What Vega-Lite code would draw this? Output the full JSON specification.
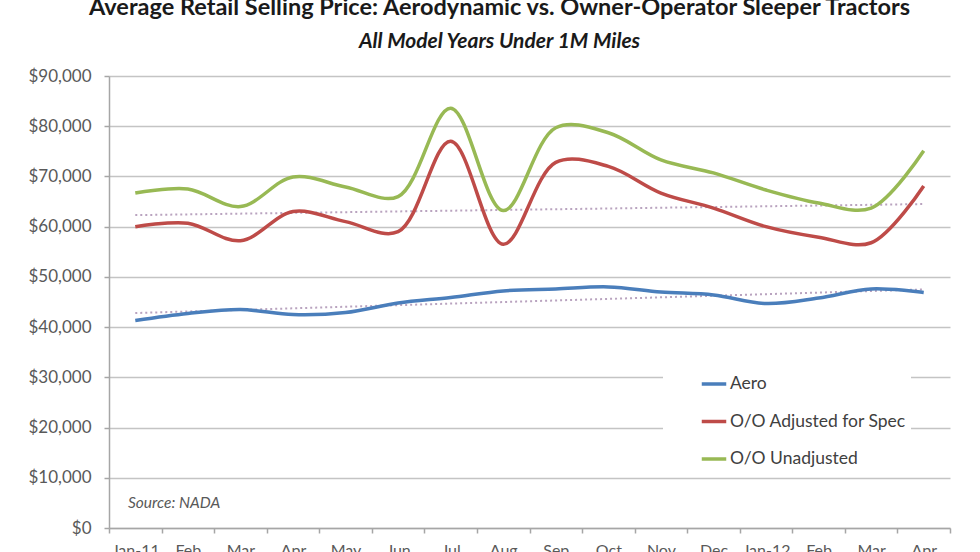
{
  "$schema": "https://vega.github.io/schema/vega-lite/v6.json",
  "description": "Average retail selling price, aerodynamic vs. owner-operator sleeper tractors.",
  "width": 841,
  "height": 452,
  "autosize": "none",
  "padding": {"left": 109, "top": 76, "right": 30, "bottom": 24},
  "background": "white",
  "title": {
    "text": "Average Retail Selling Price: Aerodynamic vs. Owner-Operator Sleeper Tractors",
    "subtitle": "All Model Years Under 1M Miles",
    "anchor": "middle",
    "dx": -30,
    "offset": 15,
    "font": "Lato",
    "fontSize": 23.5,
    "fontWeight": "bold",
    "color": "#1a1a1a",
    "subtitleFont": "Lato",
    "subtitleFontSize": 21,
    "subtitleFontWeight": "bold",
    "subtitleFontStyle": "italic",
    "subtitleColor": "#1a1a1a",
    "subtitlePadding": 12
  },
  "datasets": {
    "prices": [
      {"month": "Jan-11", "series": "Aero", "price": 41300},
      {"month": "Feb-11", "series": "Aero", "price": 42700},
      {"month": "Mar-11", "series": "Aero", "price": 43500},
      {"month": "Apr-11", "series": "Aero", "price": 42500},
      {"month": "May-11", "series": "Aero", "price": 42900},
      {"month": "Jun-11", "series": "Aero", "price": 44800},
      {"month": "Jul-11", "series": "Aero", "price": 45900},
      {"month": "Aug-11", "series": "Aero", "price": 47200},
      {"month": "Sep-11", "series": "Aero", "price": 47600},
      {"month": "Oct-11", "series": "Aero", "price": 48000},
      {"month": "Nov-11", "series": "Aero", "price": 47000},
      {"month": "Dec-11", "series": "Aero", "price": 46400},
      {"month": "Jan-12", "series": "Aero", "price": 44700},
      {"month": "Feb-12", "series": "Aero", "price": 45800},
      {"month": "Mar-12", "series": "Aero", "price": 47600},
      {"month": "Apr-12", "series": "Aero", "price": 46900},
      {"month": "Jan-11", "series": "O/O Adjusted for Spec", "price": 60000},
      {"month": "Feb-11", "series": "O/O Adjusted for Spec", "price": 60700},
      {"month": "Mar-11", "series": "O/O Adjusted for Spec", "price": 57200},
      {"month": "Apr-11", "series": "O/O Adjusted for Spec", "price": 63000},
      {"month": "May-11", "series": "O/O Adjusted for Spec", "price": 61000},
      {"month": "Jun-11", "series": "O/O Adjusted for Spec", "price": 59000},
      {"month": "Jul-11", "series": "O/O Adjusted for Spec", "price": 77000},
      {"month": "Aug-11", "series": "O/O Adjusted for Spec", "price": 56500},
      {"month": "Sep-11", "series": "O/O Adjusted for Spec", "price": 72800},
      {"month": "Oct-11", "series": "O/O Adjusted for Spec", "price": 72000},
      {"month": "Nov-11", "series": "O/O Adjusted for Spec", "price": 66700},
      {"month": "Dec-11", "series": "O/O Adjusted for Spec", "price": 63700},
      {"month": "Jan-12", "series": "O/O Adjusted for Spec", "price": 60000},
      {"month": "Feb-12", "series": "O/O Adjusted for Spec", "price": 57900},
      {"month": "Mar-12", "series": "O/O Adjusted for Spec", "price": 56800},
      {"month": "Apr-12", "series": "O/O Adjusted for Spec", "price": 68100},
      {"month": "Jan-11", "series": "O/O Unadjusted", "price": 66700},
      {"month": "Feb-11", "series": "O/O Unadjusted", "price": 67500},
      {"month": "Mar-11", "series": "O/O Unadjusted", "price": 64000},
      {"month": "Apr-11", "series": "O/O Unadjusted", "price": 69900},
      {"month": "May-11", "series": "O/O Unadjusted", "price": 67900},
      {"month": "Jun-11", "series": "O/O Unadjusted", "price": 66000},
      {"month": "Jul-11", "series": "O/O Unadjusted", "price": 83600},
      {"month": "Aug-11", "series": "O/O Unadjusted", "price": 63200},
      {"month": "Sep-11", "series": "O/O Unadjusted", "price": 79700},
      {"month": "Oct-11", "series": "O/O Unadjusted", "price": 78700},
      {"month": "Nov-11", "series": "O/O Unadjusted", "price": 73300},
      {"month": "Dec-11", "series": "O/O Unadjusted", "price": 70700},
      {"month": "Jan-12", "series": "O/O Unadjusted", "price": 67300},
      {"month": "Feb-12", "series": "O/O Unadjusted", "price": 64700},
      {"month": "Mar-12", "series": "O/O Unadjusted", "price": 63700},
      {"month": "Apr-12", "series": "O/O Unadjusted", "price": 75100}
    ],
    "trends": [
      {"month": "Jan-11", "trend": "Aero trend", "price": 42800},
      {"month": "Apr-12", "trend": "Aero trend", "price": 47500},
      {"month": "Jan-11", "trend": "O/O Adjusted trend", "price": 62300},
      {"month": "Apr-12", "trend": "O/O Adjusted trend", "price": 64500}
    ],
    "notes": [
      {"note": "Source: NADA"}
    ]
  },
  "layer": [
    {
      "data": {"name": "trends"},
      "mark": {"type": "line", "strokeWidth": 2, "strokeDash": [2, 3], "color": "#b9a3bf"},
      "encoding": {
        "x": {
          "field": "month",
          "type": "ordinal",
          "bandPosition": 0.5,
          "scale": {
            "type": "band",
            "paddingInner": 0,
            "paddingOuter": 0,
            "domain": ["Jan-11", "Feb-11", "Mar-11", "Apr-11", "May-11", "Jun-11", "Jul-11", "Aug-11", "Sep-11", "Oct-11", "Nov-11", "Dec-11", "Jan-12", "Feb-12", "Mar-12", "Apr-12"]
          },
          "axis": {
            "title": null,
            "labelAngle": 0,
            "tickBand": "extent",
            "grid": false,
            "labelExpr": "indexof(datum.label, 'Jan') == 0 ? datum.label : slice(datum.label, 0, 3)",
            "labelPadding": 9
          }
        },
        "y": {
          "field": "price",
          "type": "quantitative",
          "scale": {"domain": [0, 90000], "nice": false},
          "axis": {
            "title": null,
            "values": [0, 10000, 20000, 30000, 40000, 50000, 60000, 70000, 80000, 90000],
            "format": "$,.0f",
            "grid": true,
            "labelPadding": 13
          }
        },
        "detail": {"field": "trend"}
      }
    },
    {
      "data": {"name": "prices"},
      "mark": {"type": "line", "interpolate": "catmull-rom", "strokeWidth": 3.5},
      "encoding": {
        "x": {"field": "month", "type": "ordinal", "bandPosition": 0.5},
        "y": {"field": "price", "type": "quantitative"},
        "color": {
          "field": "series",
          "type": "nominal",
          "scale": {
            "domain": ["Aero", "O/O Adjusted for Spec", "O/O Unadjusted"],
            "range": ["#4a7ebb", "#be4b48", "#98b954"]
          },
          "legend": {
            "title": null,
            "orient": "none",
            "legendX": 554,
            "legendY": 290,
            "fillColor": "white",
            "padding": 4,
            "symbolType": "stroke",
            "symbolSize": 600,
            "symbolStrokeWidth": 3.5,
            "symbolOffset": 33,
            "rowPadding": 14.5,
            "labelOffset": 2,
            "labelFont": "Lato",
            "labelFontSize": 17.5,
            "labelColor": "#404040",
            "labelLimit": 400,
            "labelExpr": "datum.label + '          '"
          }
        }
      }
    },
    {
      "data": {"name": "notes"},
      "mark": {"type": "text", "align": "left", "baseline": "middle", "dx": 19, "font": "Lato", "fontSize": 15.5, "fontStyle": "italic", "color": "#595959"},
      "encoding": {
        "x": {"datum": "Jan-11", "type": "ordinal", "bandPosition": 0},
        "y": {"datum": 5000, "type": "quantitative"},
        "text": {"field": "note"}
      }
    }
  ],
  "config": {
    "view": {"stroke": null},
    "axis": {
      "labelFont": "Lato",
      "labelFontSize": 16,
      "labelColor": "#595959",
      "domainColor": "#a6a6a6",
      "domainWidth": 1.5,
      "tickColor": "#a6a6a6",
      "tickWidth": 1.5,
      "tickSize": 5,
      "gridColor": "#c4c4c4",
      "gridWidth": 1.5
    },
    "axisY": {"labelFontSize": 17}
  }
}
